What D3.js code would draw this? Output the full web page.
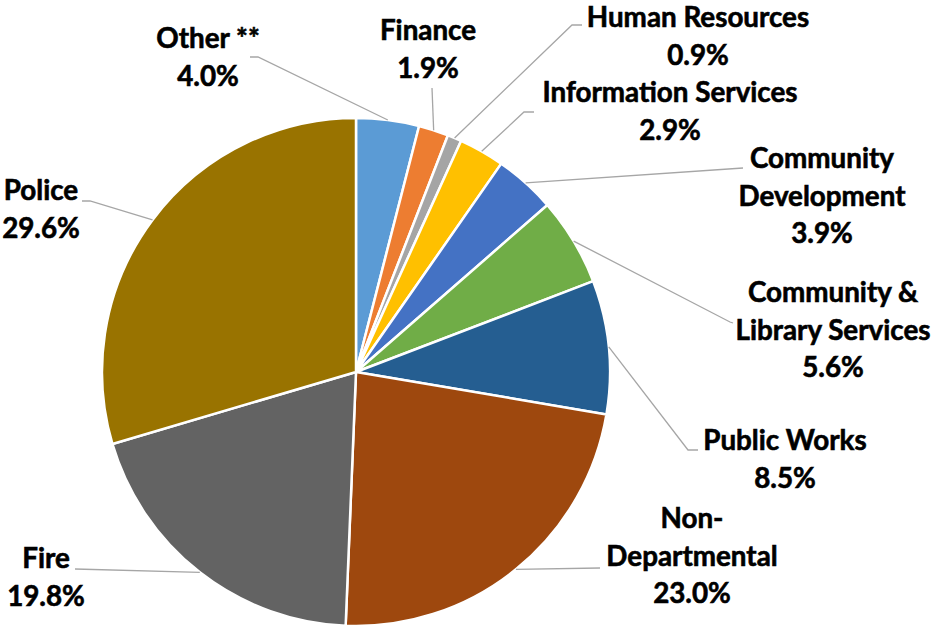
<!DOCTYPE html>
<html><head><meta charset="utf-8">
<script src="https://cdn.jsdelivr.net/npm/d3@7"></script>
<style>body{margin:0;background:#fff}</style>
</head><body>
<svg id="chart" width="932" height="630"></svg>
<script>
// ---- data ----
const categories = ["Other **","Finance","Human Resources","Information Services","Community Development","Community & Library Services","Public Works","Non-Departmental","Fire","Police"];
const values = [4.0, 1.9, 0.9, 2.9, 3.9, 5.6, 8.5, 23.0, 19.8, 29.6];
const colors = ["#5B9BD5","#ED7D31","#A5A5A5","#FFC000","#4472C4","#70AD47","#255E91","#9E480E","#636363","#997300"];
const labelLines = [["Other **"],["Finance"],["Human Resources"],["Information Services"],["Community","Development"],["Community &","Library Services"],["Public Works"],["Non-","Departmental"],["Fire"],["Police"]];

// ---- layout (positions only) ----
const cx = 356, cy = 372, R = 254;
const labelPos = [[208,48],[428,40],[698,27],[670,102],[822,168],[833,302],[785,450],[692,528],[46,568],[41,200]];
const leaderEnds = [
  [[258,57],[250,57]],
  [[432,88]],
  [[572,25],[582,25]],
  [[524,112],[534,112]],
  [[743,168]],
  [[730,322],[733,323]],
  [[688,450],[698,450]],
  [[600,568]],
  [[75,569]],
  [[90,201],[82,201]]
];
const lineH = 37.5;

const svg = d3.select("#chart");
const fontFamily = "Lato, 'Open Sans', sans-serif";

// measure font size so that "Library Services" is ~197px wide
const probe = svg.append("text").attr("font-family", fontFamily).attr("font-weight", 700)
  .attr("font-size", 100).text("Library Services");
const w100 = probe.node().getComputedTextLength();
probe.remove();
const fontSize = Math.min(28, Math.max(20, 195 / w100 * 100));

const data = categories.map((c, i) => ({name: c, value: values[i], color: colors[i], lines: labelLines[i], lp: labelPos[i], le: leaderEnds[i]}));

const pie = d3.pie().value(d => d.value).sort(null).startAngle(0).endAngle(2 * Math.PI);
const arcs = pie(data);
const arc = d3.arc().innerRadius(0).outerRadius(R);

const g = svg.append("g").attr("transform", `translate(${cx},${cy})`);
g.selectAll("path.slice").data(arcs).join("path")
  .attr("class", "slice")
  .attr("d", arc)
  .attr("fill", d => d.data.color)
  .attr("stroke", "#fff")
  .attr("stroke-width", 2.5)
  .attr("stroke-linejoin", "round");

// leader lines
const line = d3.line();
svg.selectAll("path.leader").data(arcs).join("path")
  .attr("class", "leader")
  .attr("fill", "none")
  .attr("stroke", "#A6A6A6")
  .attr("stroke-width", 1.3)
  .attr("d", d => {
    const a = (d.startAngle + d.endAngle) / 2;
    const p0 = [cx + R * Math.sin(a), cy - R * Math.cos(a)];
    return line([p0, ...d.data.le]);
  });

// labels
const fmt = d3.format(".1f");
const lbl = svg.selectAll("text.lbl").data(arcs).join("text")
  .attr("class", "lbl")
  .attr("font-family", fontFamily)
  .attr("font-weight", 700)
  .attr("font-size", fontSize)
  .attr("fill", "#000")
  .attr("stroke", "#000")
  .attr("stroke-width", 0.6)
  .attr("text-anchor", "middle");
lbl.each(function(d) {
  const t = d3.select(this);
  const [x, y] = d.data.lp;
  const rows = [...d.data.lines, fmt(d.data.value) + "%"];
  rows.forEach((r, k) => {
    t.append("tspan").attr("x", x).attr("y", y + k * lineH).text(r);
  });
});
</script>
</body></html>
